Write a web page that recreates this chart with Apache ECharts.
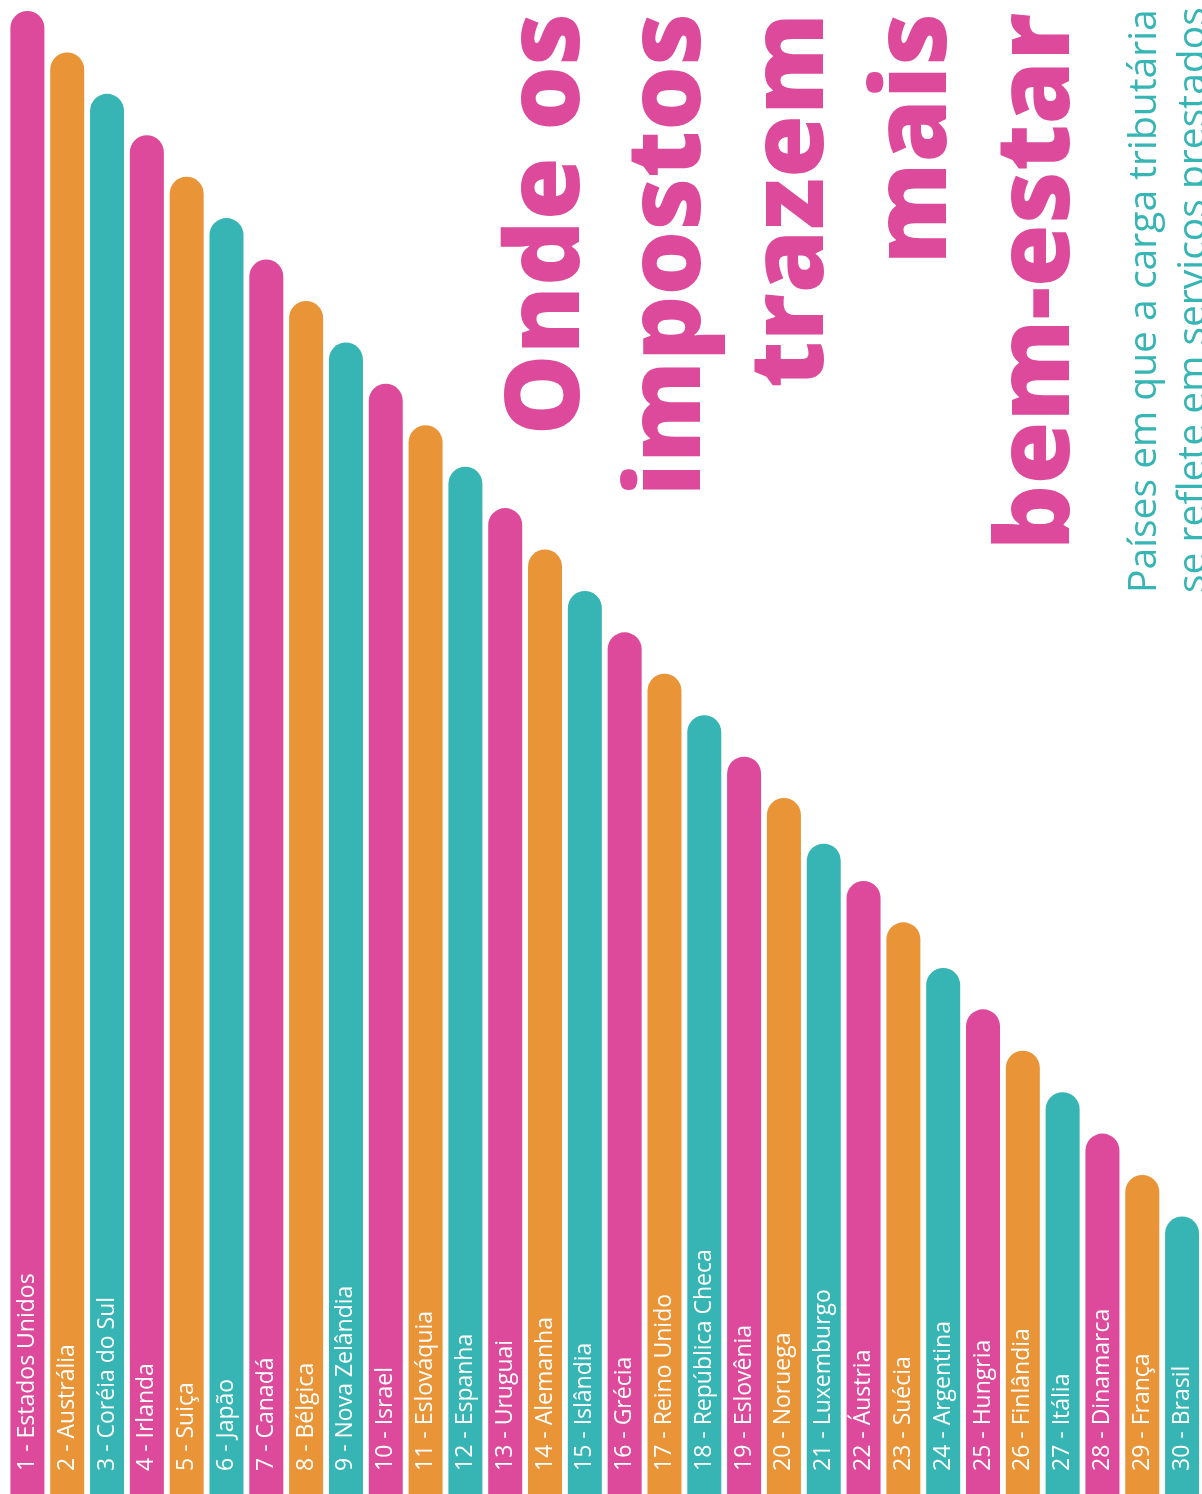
<!DOCTYPE html>
<html>
<head>
<meta charset="utf-8">
<script src="https://cdn.jsdelivr.net/npm/echarts@6/dist/echarts.min.js"></script>
<style>
  html, body { margin: 0; padding: 0; background: #ffffff; }
  #chart { width: 1202px; height: 1494px; }
</style>
</head>
<body>
<div id="chart"></div>
<script>
// Countries ranked (1 = most welfare returned per tax)
const categories = [
  'Estados Unidos', 'Austrália', 'Coréia do Sul', 'Irlanda', 'Suiça', 'Japão',
  'Canadá', 'Bélgica', 'Nova Zelândia', 'Israel', 'Eslováquia', 'Espanha',
  'Uruguai', 'Alemanha', 'Islândia', 'Grécia', 'Reino Unido', 'República Checa',
  'Eslovênia', 'Noruega', 'Luxemburgo', 'Áustria', 'Suécia', 'Argentina',
  'Hungria', 'Finlândia', 'Itália', 'Dinamarca', 'França', 'Brasil'
];
// Bar heights (relative units)
const values = [
  35.8, 34.8, 33.8, 32.8, 31.8, 30.8, 29.8, 28.8, 27.8, 26.8,
  25.8, 24.8, 23.8, 22.8, 21.8, 20.8, 19.8, 18.8, 17.8, 16.8,
  15.7, 14.8, 13.8, 12.7, 11.7, 10.7, 9.7, 8.7, 7.7, 6.7
];
const palette = ['#DD4A9B', '#E89437', '#36B5B4'];
const titleLines = ['Onde os', 'impostos', 'trazem', 'mais', 'bem-estar'];
const subtitleLines = ['Países em que a carga tributária', 'se reflete em serviços prestados'];

const chart = echarts.init(document.getElementById('chart'), null, { renderer: 'canvas' });

const titleCenters = [550, 671, 794, 917, 1040];
const subCenters = [1145, 1194];

const graphics = [];
titleLines.forEach(function (t, i) {
  graphics.push({
    type: 'text',
    x: titleCenters[i],
    y: 13,
    rotation: Math.PI / 2,
    z: 10,
    style: {
      text: t,
      fill: '#DD4A9B',
      font: '800 102px "Open Sans"',
      align: 'right',
      verticalAlign: 'middle'
    }
  });
});
subtitleLines.forEach(function (t, i) {
  graphics.push({
    type: 'text',
    x: subCenters[i],
    y: 593,
    rotation: Math.PI / 2,
    z: 10,
    style: {
      text: t,
      fill: '#36B5B4',
      font: '400 39px "Open Sans"',
      align: 'left',
      verticalAlign: 'middle'
    }
  });
});

chart.setOption({
  backgroundColor: '#ffffff',
  animation: false,
  grid: { left: 7.5, right: -7.5, top: 11, bottom: 0, containLabel: false },
  xAxis: {
    type: 'category',
    data: categories,
    show: false,
    boundaryGap: true
  },
  yAxis: {
    type: 'value',
    min: 0,
    max: 35.8,
    show: false
  },
  series: [{
    type: 'bar',
    data: values.map(function (v, i) {
      return { value: v, itemStyle: { color: palette[i % 3] } };
    }),
    barWidth: 34,
    clip: false,
    itemStyle: { borderRadius: [17, 17, 0, 0] },
    label: {
      show: true,
      position: 'insideBottom',
      distance: 23,
      rotate: 90,
      align: 'left',
      verticalAlign: 'middle',
      color: '#ffffff',
      fontFamily: 'Open Sans',
      fontSize: 23,
      fontWeight: 400,
      formatter: function (p) { return (p.dataIndex + 1) + ' - ' + p.name; }
    }
  }],
  graphic: graphics
});
</script>
</body>
</html>
